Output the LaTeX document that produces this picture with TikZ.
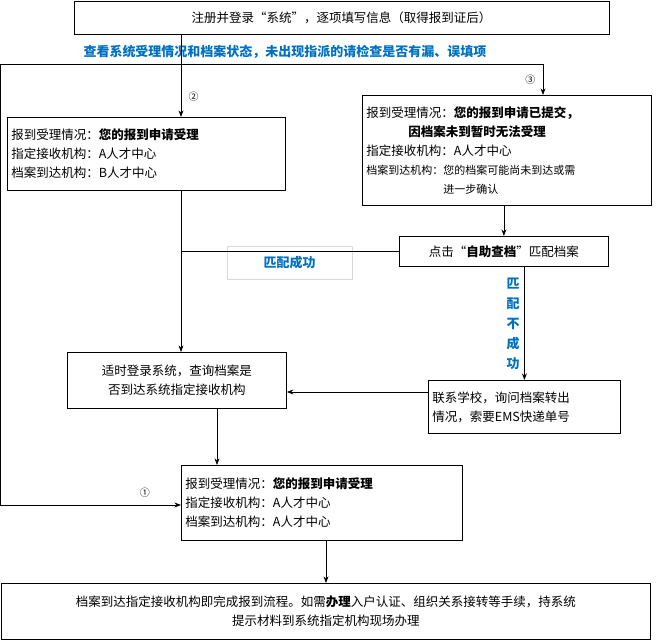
\documentclass[tikz,border=0pt]{standalone}
\usepackage{fontspec}
\setmainfont{Noto Sans CJK SC}
\usetikzlibrary{arrows.meta,calc,positioning}
\definecolor{tagblue}{RGB}{0,112,192}
\tikzset{
  box/.style={draw,line width=0.8pt,inner sep=4pt,font=\fontsize{12.5}{19}\selectfont},
  link/.style={->,>=Stealth,line width=0.8pt},
  plain/.style={line width=0.8pt},
  tag/.style={font=\fontsize{13}{18}\selectfont\bfseries,text=tagblue}
}
\begin{document}
\begin{tikzpicture}[x=1pt,y=-1pt]
  \useasboundingbox (0,0) rectangle (657,642);
  \node[box,minimum width=535pt,minimum height=33pt] at (341.5,17.5) (Register)
  {注册并登录“系统”，逐项填写信息（取得报到证后）};
  \node[tag] at (285,52) (Check) {查看系统受理情况和档案状态，未出现指派的请检查是否有漏、误填项};

  \node[box,minimum height=73pt,text width=270pt,align=left,anchor=north west] at (7,117) (Accept B)
  {报到受理情况：\textbf{您的报到申请受理}\\指定接收机构：A人才中心\\档案到达机构：B人才中心};
  \node[box,minimum height=110pt,text width=281pt,align=left,anchor=north west] at (362,95) (Submitted)
  {报到受理情况：\textbf{您的报到申请已提交，}\\\hspace*{42pt}\textbf{因档案未到暂时无法受理}\\指定接收机构：A人才中心\\{\fontsize{11}{17}\selectfont 档案到达机构：您的档案可能尚未到达或需}\\{\fontsize{11}{17}\selectfont\hspace*{77pt}进一步确认}};
  \node[box,minimum width=209pt,minimum height=30pt,anchor=north west] at (399,236) (Search)
  {点击“\textbf{自助查档}”匹配档案};
  \node[draw=black!15,tag,minimum width=125pt,minimum height=33pt,anchor=north west] at (227,246) (Matched) {匹配成功};
  \node[box,minimum width=219pt,minimum height=56pt,align=center,anchor=north west] at (67,352) (Query)
  {适时登录系统，查询档案是\\否到达系统指定接收机构};
  \node[box,minimum height=53pt,text width=184pt,align=left,anchor=north west] at (428,380) (School)
  {联系学校，询问档案转出\\情况，索要EMS快递单号};
  \node[box,minimum height=75pt,text width=273pt,align=left,anchor=north west] at (181,465) (Accept A)
  {报到受理情况：\textbf{您的报到申请受理}\\指定接收机构：A人才中心\\档案到达机构：A人才中心};
  \node[box,minimum height=56pt,text width=641pt,align=center,anchor=north west] at (1,583) (Finish)
  {档案到达指定接收机构即完成报到流程。如需\textbf{办理}入户认证、组织关系接转等手续，持系统\\提示材料到系统指定机构现场办理};

  \coordinate (Split) at (181,64);
  \coordinate (Left top) at (0.5,64);
  \coordinate (Left bottom) at (0.5,505);
  \coordinate (Right top) at (543,64);

  \draw[link] (Register.south -| Split) -- node[pos=0.75,right=4pt] {②} (Accept B.north -| Split);
  \draw[link] (Left top) -- (Right top) -- node[pos=0.5,left=4pt] {③} (Submitted.north -| Right top);
  \draw[link] (Left top) -- (Left bottom) -- node[pos=0.8,above=4pt] {①} (Left bottom -| Accept A.west);
  \draw[link] (Submitted.south -| Search.north) -- (Search.north);
  \draw[plain] (Search.west) -- (Search.west -| Split);
  \draw[link] (Accept B.south -| Split) -- (Query.north -| Split);
  \draw[link] (Search.south -| School.north) ++(0,0) coordinate (Miss) -- (School.north -| Miss)
    node[tag,pos=0.5,left=1pt,align=center,font=\fontsize{13}{20}\selectfont\bfseries] {匹\\配\\不\\成\\功};
  \draw[link] (School.west |- 0,392) -- (Query.east |- 0,392);
  \draw[link] (Query.south -| 217,0) -- (Accept A.north -| 217,0);
  \draw[link] (Accept A.south -| 326,0) -- (Finish.north -| 326,0);
\end{tikzpicture}
\end{document}
